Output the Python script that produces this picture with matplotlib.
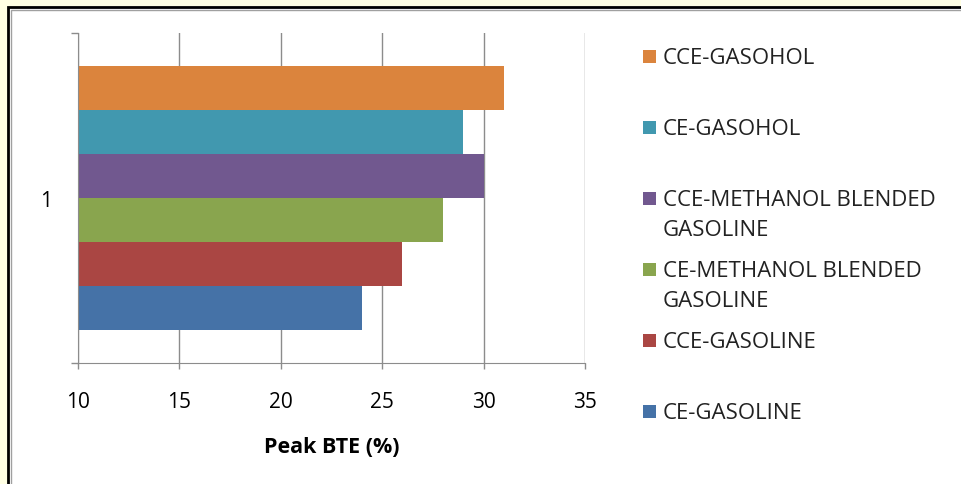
import matplotlib
matplotlib.use("Agg")
import matplotlib.pyplot as plt
from matplotlib.patches import Rectangle

# series, bottom bar first
series = ['CE-GASOLINE', 'CCE-GASOLINE', 'CE-METHANOL BLENDED\nGASOLINE',
          'CCE-METHANOL BLENDED\nGASOLINE', 'CE-GASOHOL', 'CCE-GASOHOL']
peak_bte = [24, 26, 28, 30, 29, 31]
colors = ['#4572A7', '#AA4643', '#89A54E', '#71588F', '#4198AF', '#DB843D']
category = ['1']
xticks = [10, 15, 20, 25, 30, 35]

plt.rcParams['font.family'] = ['Open Sans', 'DejaVu Sans']

W, H = 962, 485
fig = plt.figure(figsize=(W / 100, H / 100), dpi=100)
fig.patch.set_facecolor('#FFFFE4')

# slide frame
fig.patches.append(Rectangle((8 / W, -0.05), 1.0, 1 - 8 / H + 0.05,
                             transform=fig.transFigure, fc='white', ec='black',
                             lw=2, zorder=-2))
fig.patches.append(Rectangle((11 / W, -0.05), 1.0, 1 - 11 / H + 0.05,
                             transform=fig.transFigure, fc='none', ec='#A0A0A0',
                             lw=1, zorder=-1))

ax = fig.add_axes([78 / W, 1 - 364 / H, 507 / W, 330 / H])
ax.set_zorder(2)
ax.set_facecolor('none')

n = len(series)
h = 0.8 / n
for i, (lab, v, c) in enumerate(zip(series, peak_bte, colors)):
    ax.barh(-0.4 + h * (i + 0.5), v, height=h, color=c, zorder=2)

ax.set_xlim(10, 35)
ax.set_ylim(-0.5, 0.5)
ax.set_xticks(xticks)
ax.set_xticklabels([str(t) for t in xticks], fontsize=15)
ax.set_yticks([0])
ax.set_yticklabels(category, fontsize=15)
ax.set_yticks([-0.5, 0.5], minor=True)
ax.tick_params(axis='y', which='major', length=0, pad=19)
ax.tick_params(axis='y', which='minor', length=5.4, color='#8C8C8C', width=1)
ax.tick_params(axis='x', length=4.5, color='#8C8C8C', width=1, pad=16)

ax.grid(axis='x', color='#8C8C8C', lw=1, zorder=1)
ax.set_axisbelow(True)
for s in ['top', 'right']:
    ax.spines[s].set_visible(False)
for s in ['left', 'bottom']:
    ax.spines[s].set_color('#8C8C8C')
ax.set_xlabel('Peak BTE (%)', fontsize=15.5, fontweight='bold', labelpad=17)

# legend, top entry first, evenly spaced first lines
for k, idx in enumerate(range(n - 1, -1, -1)):
    yc = 57 + k * 71
    fig.patches.append(Rectangle((643 / W, 1 - (yc + 6.5) / H), 13 / W, 13 / H,
                                 transform=fig.transFigure, fc=colors[idx],
                                 ec='none', zorder=3))
    fig.text(663 / W, 1 - (yc - 9) / H, series[idx], fontsize=16, va='top',
             ha='left', color='#222222', linespacing=1.55)

fig.savefig('out.png', dpi=100)
